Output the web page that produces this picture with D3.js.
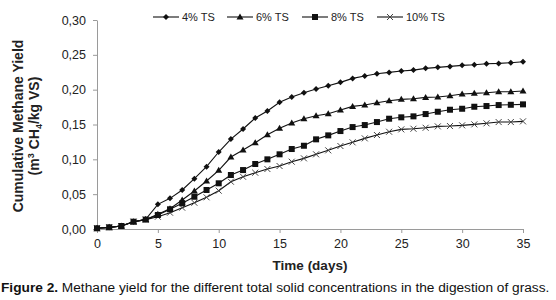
<!DOCTYPE html>
<html><head><meta charset="utf-8">
<script src="https://cdn.jsdelivr.net/npm/d3@7/dist/d3.min.js"></script>
<style>
body{margin:0;background:#fff;}
svg text{font-family:"Liberation Sans",Arial,sans-serif;}
</style></head>
<body><svg id="c" width="556" height="300"></svg>
<script>
const days = d3.range(0, 36);
const ts4 = [0.001,0.0024,0.0043,0.0105,0.0139,0.0354,0.044,0.056,0.0722,0.0894,0.1105,0.1291,0.1435,0.1593,0.1693,0.1818,0.1894,0.1956,0.2009,0.2056,0.2105,0.2162,0.2195,0.2228,0.2248,0.2267,0.2281,0.2306,0.232,0.2334,0.2349,0.2357,0.2372,0.2377,0.2386,0.240];
const ts6 = [0.001,0.0024,0.0043,0.0105,0.0135,0.0211,0.0292,0.0416,0.0545,0.0689,0.0842,0.1033,0.1133,0.1238,0.1353,0.1445,0.1521,0.1583,0.1626,0.1654,0.1707,0.176,0.1779,0.1812,0.1841,0.1861,0.1869,0.1889,0.1894,0.1912,0.1937,0.1947,0.1956,0.197,0.197,0.198];
const ts8 = [0.001,0.0024,0.0043,0.0105,0.0135,0.0201,0.0283,0.0369,0.0463,0.056,0.0656,0.0775,0.0846,0.0933,0.1,0.1072,0.1148,0.1195,0.1287,0.1344,0.1406,0.1463,0.1492,0.1535,0.1583,0.1603,0.1617,0.165,0.1683,0.1712,0.1726,0.1755,0.1765,0.1779,0.1783,0.1789];
const ts10 = [0.001,0.0024,0.0043,0.0105,0.0135,0.0176,0.0234,0.0306,0.0377,0.0455,0.055,0.0679,0.075,0.0808,0.0861,0.0904,0.0966,0.1014,0.1072,0.1129,0.1191,0.1244,0.1301,0.1349,0.1396,0.143,0.1439,0.1453,0.1473,0.1478,0.1488,0.1502,0.1517,0.1535,0.1535,0.1545];
const seriesNames = ["4% TS","6% TS","8% TS","10% TS"];
const seriesMarkers = ["diamond","triangle","square","cross"];
const xTicks = [0,5,10,15,20,25,30,35];
const yTicks = [0,0.05,0.10,0.15,0.20,0.25,0.30];

const series = [ts4, ts6, ts8, ts10].map((v,i)=>({name:seriesNames[i], marker:seriesMarkers[i], values:v}));

const svg = d3.select("#c");
const x = d3.scaleLinear().domain([0,35]).range([97,523]);
const y = d3.scaleLinear().domain([0,0.30]).range([229,20]);
const axisCol = "#9a9a9a";
const fmt = d => d3.format(".2f")(d).replace(".", ",");

const gx = svg.append("g").attr("transform","translate(0,229)")
  .call(d3.axisBottom(x).tickValues(xTicks).tickSize(4).tickSizeOuter(0).tickPadding(6));
const gy = svg.append("g").attr("transform","translate(97,0)")
  .call(d3.axisLeft(y).tickValues(yTicks).tickFormat(fmt).tickSize(4).tickSizeOuter(0).tickPadding(7));
[gx,gy].forEach(g=>{
  g.select(".domain").attr("stroke",axisCol);
  g.selectAll(".tick line").attr("stroke",axisCol);
  g.selectAll(".tick text").attr("fill","#222").style("font-size","12.5px").style("font-family","'Liberation Sans',Arial,sans-serif");
});

function marker(g, type, cx, cy){
  if(type==="diamond"){
    g.append("path").attr("d",`M${cx},${cy-3}L${cx+3},${cy}L${cx},${cy+3}L${cx-3},${cy}Z`).attr("fill","#111");
  } else if(type==="triangle"){
    g.append("path").attr("d",`M${cx},${cy-3.5}L${cx+3.5},${cy+2.5}L${cx-3.5},${cy+2.5}Z`).attr("fill","#111");
  } else if(type==="square"){
    g.append("rect").attr("x",cx-3).attr("y",cy-3).attr("width",6).attr("height",6).attr("fill","#111");
  } else {
    g.append("path").attr("d",`M${cx-3},${cy-3}L${cx+3},${cy+3}M${cx-3},${cy+3}L${cx+3},${cy-3}`).attr("stroke","#444").attr("stroke-width",1);
  }
}

const line = d3.line().x((d,i)=>x(days[i])).y(d=>y(d));
series.slice().reverse().forEach(s=>{
  const g = svg.append("g");
  g.append("path").attr("d",line(s.values)).attr("fill","none").attr("stroke","#111").attr("stroke-width",1.1);
  s.values.forEach((v,i)=>marker(g, s.marker, x(days[i]), y(v)));
});

// legend
const legX = [153,227,302,377];
series.forEach((s,i)=>{
  const g = svg.append("g");
  g.append("line").attr("x1",legX[i]).attr("x2",legX[i]+26).attr("y1",17).attr("y2",17).attr("stroke","#111").attr("stroke-width",1.1);
  marker(g, s.marker, legX[i]+13, 17);
  g.append("text").attr("x",legX[i]+29).attr("y",21).style("font-size","11px").attr("fill","#222").text(s.name);
});

// axis titles
svg.append("text").attr("x",310).attr("y",270).attr("text-anchor","middle").style("font-size","13.5px").style("font-weight","bold").attr("fill","#222").text("Time (days)");
const yt = svg.append("text").attr("transform","translate(0,126) rotate(-90)").attr("text-anchor","middle").style("font-size","14px").style("font-weight","bold").attr("fill","#222");
yt.append("tspan").attr("x",0).attr("y",23).text("Cumulative Methane Yield");
const l2 = yt.append("tspan").attr("x",0).attr("y",39);
l2.append("tspan").text("(m");
l2.append("tspan").attr("dy",-5).style("font-size","9px").text("3");
l2.append("tspan").attr("dy",5).text(" CH");
l2.append("tspan").attr("dy",3).style("font-size","9px").text("4");
l2.append("tspan").attr("dy",-3).text("/kg VS)");

// caption
const cap = svg.append("text").attr("x",1).attr("y",292).style("font-size","13.7px").attr("fill","#111");
cap.append("tspan").style("font-weight","bold").text("Figure 2.");
cap.append("tspan").text(" Methane yield for the different total solid concentrations in the digestion of grass.");
</script></body></html>
